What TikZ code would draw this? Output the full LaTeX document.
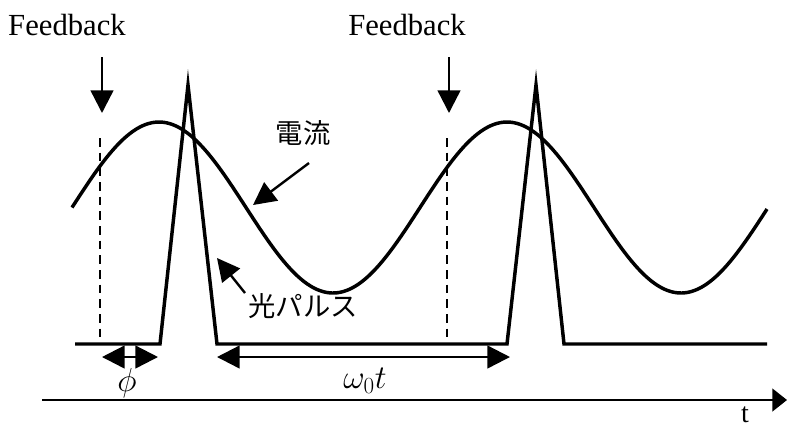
\documentclass[tikz,border=0pt]{standalone}
\usepackage{fontspec}
\setmainfont{Liberation Serif}
\newfontfamily\jpfont{Noto Sans CJK JP}
\usetikzlibrary{arrows.meta}

\begin{document}
\begin{tikzpicture}[x=0.75pt, y=-0.75pt, >={Triangle[length=17pt, width=17pt]}, wave/.style={line width=2.6pt, line join=miter}, thin line/.style={line width=1.8pt}, lbl/.style={inner sep=0pt, font=\fontsize{23}{26}\selectfont}, jp/.style={font=\jpfont\fontsize{20.5}{24}\selectfont}]
	\useasboundingbox (0,0) rectangle (787,430);
	% feedback points
	\foreach \n/\x/\lx in {1/102/67, 2/449/407} {
		\node[lbl] (fb\n) at (\lx,25) {Feedback};
		\coordinate (fbtop\n) at (\x,57);
		\coordinate (fbtip\n) at (\x,113);
		\draw[->, thin line] (fbtop\n) -- (fbtip\n);
		\draw[thin line, dash pattern=on 6.5pt off 4.5pt] (\x-2,138) -- (\x-2,344);
	}
	% light pulses
	\draw[wave] (75,344) -- (160,344) -- (188,85) -- (217,344) -- (507,344) -- (536,85) -- (564,344) -- (767,344);
	% current
	\draw[wave, domain=72:767, samples=140, smooth] plot (\x, {207.5-85.5*cos((\x-159)/348*360)});
	% time axis
	\coordinate (t0) at (42,400);
	\coordinate (t1) at (787,400);
	\draw[-{Triangle[length=11pt, width=17pt]}, thin line] (t0) -- (t1);
	\node[lbl, font=\fontsize{21}{24}\selectfont] (tl) at (745,415) {t};
	% phase and period
	\coordinate (p0) at (102,357);
	\coordinate (p1) at (158,357);
	\coordinate (w0) at (217,357);
	\coordinate (w1) at (510,357);
	\draw[<->, thin line] (p0) -- (p1);
	\draw[<->, thin line] (w0) -- (w1);
	\node[lbl] (phi) at (127,383) {$\phi$};
	\node[lbl] (wt) at (365,381) {$\omega_0 t$};
	% labels
	\node[jp] (cur) at (303,133) {電流};
	\node[jp] (pul) at (303,306) {光パルス};
	\coordinate (curtip) at (253,205);
	\coordinate (pultip) at (217,258);
	\draw[->, thin line] (309,163) -- (curtip);
	\draw[->, thin line] (245,293) -- (pultip);
\end{tikzpicture}
\end{document}
